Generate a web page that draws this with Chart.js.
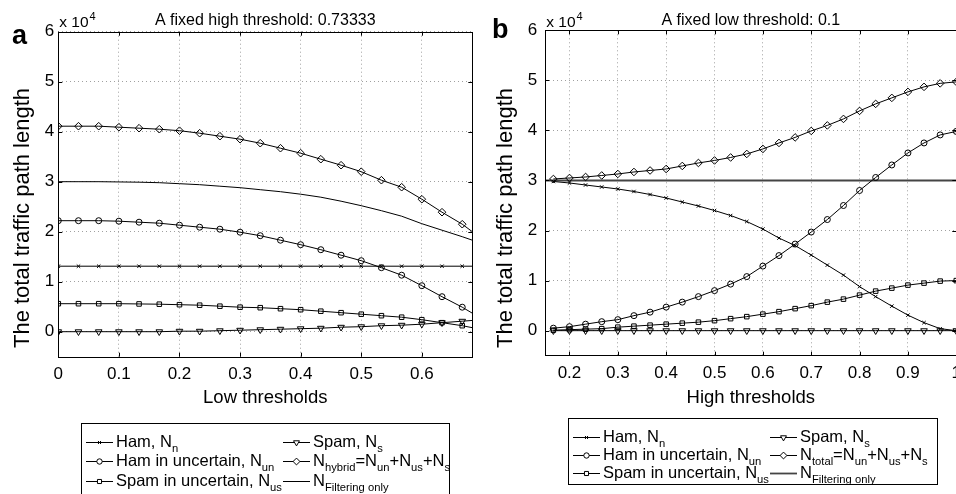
<!DOCTYPE html>
<html>
<head>
<meta charset="utf-8">
<script src="https://cdn.jsdelivr.net/npm/chart.js@4/dist/chart.umd.min.js"></script>
<style>
  html, body { margin: 0; padding: 0; background: #fff; overflow: hidden; width: 956px; height: 494px; }
  .panel { position: absolute; top: 0; }
  #wrapA { left: 0; }
  #wrapB { left: 478px; }
</style>
</head>
<body>
<div class="panel" id="wrapA"><canvas id="chartA" width="478" height="494"></canvas></div>
<div class="panel" id="wrapB"><canvas id="chartB" width="490" height="494"></canvas></div>
<script>
/* =========================
    DATA  (y values in units of 10^4)
========================= */

// panel a: fixed high threshold 0.73333, x = low threshold
const lowThresholds = [0, 0.0333, 0.0667, 0.1, 0.1333, 0.1667, 0.2, 0.2333, 0.2667, 0.3, 0.3333,
  0.3667, 0.4, 0.4333, 0.4667, 0.5, 0.5333, 0.5667, 0.6, 0.6333, 0.6667, 0.7];
const hamA      = [1.31, 1.31, 1.31, 1.31, 1.31, 1.31, 1.31, 1.31, 1.31, 1.31, 1.31,
  1.31, 1.31, 1.31, 1.31, 1.31, 1.31, 1.31, 1.31, 1.31, 1.31, 1.31];
const hamUncA   = [2.22, 2.22, 2.22, 2.21, 2.19, 2.17, 2.13, 2.09, 2.05, 1.99, 1.92,
  1.83, 1.74, 1.64, 1.53, 1.42, 1.28, 1.13, 0.92, 0.70, 0.49, 0.25];
const spamUncA  = [0.56, 0.56, 0.56, 0.56, 0.555, 0.55, 0.54, 0.53, 0.51, 0.49, 0.48,
  0.46, 0.44, 0.41, 0.38, 0.35, 0.32, 0.29, 0.24, 0.18, 0.12, 0.04];
const spamA     = [0, 0, 0, 0, 0, 0, 0.01, 0.01, 0.02, 0.03, 0.04,
  0.05, 0.06, 0.07, 0.09, 0.10, 0.12, 0.13, 0.15, 0.18, 0.21, 0.24];
const hybridA   = [4.11, 4.11, 4.11, 4.09, 4.07, 4.05, 4.02, 3.97, 3.91, 3.85, 3.77,
  3.67, 3.57, 3.45, 3.33, 3.20, 3.03, 2.89, 2.65, 2.39, 2.15, 1.85];
const filterA   = [3.00, 3.00, 3.00, 2.995, 2.99, 2.98, 2.96, 2.94, 2.91, 2.88, 2.84,
  2.80, 2.75, 2.69, 2.61, 2.52, 2.42, 2.31, 2.16, 2.03, 1.90, 1.76];
const xTicksA = [0, 0.1, 0.2, 0.3, 0.4, 0.5, 0.6];

// panel b: fixed low threshold 0.1, x = high threshold
const highThresholds = [0.1667, 0.2, 0.2333, 0.2667, 0.3, 0.3333, 0.3667, 0.4, 0.4333, 0.4667, 0.5,
  0.5333, 0.5667, 0.6, 0.6333, 0.6667, 0.7, 0.7333, 0.7667, 0.8, 0.8333, 0.8667, 0.9, 0.9333, 0.9667, 1.0];
const hamB      = [2.98, 2.95, 2.91, 2.87, 2.83, 2.78, 2.72, 2.65, 2.57, 2.49, 2.40,
  2.30, 2.18, 2.03, 1.85, 1.70, 1.51, 1.31, 1.11, 0.88, 0.68, 0.49, 0.31, 0.16, 0.04, 0.0];
const hamUncB   = [0.05, 0.08, 0.13, 0.18, 0.22, 0.30, 0.37, 0.47, 0.57, 0.68, 0.80,
  0.93, 1.08, 1.29, 1.50, 1.73, 1.97, 2.22, 2.50, 2.80, 3.06, 3.31, 3.55, 3.75, 3.91, 3.98];
const spamUncB  = [0.01, 0.02, 0.03, 0.04, 0.07, 0.09, 0.11, 0.13, 0.15, 0.17, 0.20,
  0.24, 0.28, 0.33, 0.38, 0.44, 0.50, 0.57, 0.63, 0.71, 0.79, 0.85, 0.91, 0.95, 0.99, 1.00];
const spamB     = [0, 0, 0, 0, 0, 0, 0, 0, 0, 0, 0, 0, 0, 0, 0, 0, 0, 0, 0, 0, 0, 0, 0, 0, 0, 0];
const totalB    = [3.03, 3.05, 3.07, 3.10, 3.13, 3.17, 3.20, 3.23, 3.29, 3.35, 3.40,
  3.46, 3.53, 3.63, 3.75, 3.86, 3.99, 4.10, 4.23, 4.39, 4.53, 4.65, 4.77, 4.87, 4.94, 4.97];
const filterXB  = [0.15, 1.0];
const filterB   = [3.0, 3.0];
const xTicksB = [0.2, 0.3, 0.4, 0.5, 0.6, 0.7, 0.8, 0.9, 1.0];

const yTicks = [0, 1, 2, 3, 4, 5, 6];

// legend labels: [text, isSubscript]
const legendLabelsA = [
  [['Ham, N'], ['n', 1]],
  [['Ham in uncertain, N'], ['un', 1]],
  [['Spam in uncertain, N'], ['us', 1]],
  [['Spam, N'], ['s', 1]],
  [['N'], ['hybrid', 1], ['=N'], ['un', 1], ['+N'], ['us', 1], ['+N'], ['s', 1]],
  [['N'], ['Filtering only', 1]]
];
const legendLabelsB = [
  [['Ham, N'], ['n', 1]],
  [['Ham in uncertain, N'], ['un', 1]],
  [['Spam in uncertain, N'], ['us', 1]],
  [['Spam, N'], ['s', 1]],
  [['N'], ['total', 1], ['=N'], ['un', 1], ['+N'], ['us', 1], ['+N'], ['s', 1]],
  [['N'], ['Filtering only', 1]]
];


/* =========================
    HELPERS
========================= */

const FONT = "'Liberation Sans', Arial, Helvetica, sans-serif";

// marker sizes per style (MATLAB default markers, hollow)
const MARK = { crossRot: 2.4, circle: 3, rect: 3.2, triangle: 3.8, rectRot: 3.8 };

function series(label, xs, ys, style, extra) {
  return Object.assign({
    label,
    data: xs.map((x, i) => ({ x, y: ys[i] })),
    borderColor: '#000',
    borderWidth: 1,
    pointStyle: style || false,
    pointRadius: style ? MARK[style] : 0,
    pointBorderColor: '#000',
    pointBackgroundColor: 'rgba(0,0,0,0)',
    pointBorderWidth: 1,
    tension: 0,
    fill: false
  }, extra || {});
}

// draws text with subscripts
function richText(ctx, parts, x, y, size) {
  parts.forEach(p => {
    const sub = p[1];
    ctx.font = (sub ? size * 0.68 : size) + 'px ' + FONT;
    ctx.fillText(p[0], x, sub ? y + size * 0.33 : y);
    x += ctx.measureText(p[0]).width;
  });
  return x;
}

/* MATLAB style frame, ticks, labels and legend */
const matlabFrame = {
  id: 'matlabFrame',
  afterDraw(chart, args, o) {
    const { ctx, chartArea: a, scales } = chart;
    ctx.save();

    // box + inward ticks
    ctx.strokeStyle = '#000';
    ctx.lineWidth = 1;
    ctx.beginPath();
    scales.x.ticks.forEach(t => {
      const px = Math.round(scales.x.getPixelForValue(t.value)) + 0.5;
      ctx.moveTo(px, a.bottom); ctx.lineTo(px, a.bottom - 4);
      ctx.moveTo(px, a.top); ctx.lineTo(px, a.top + 4);
    });
    scales.y.ticks.forEach(t => {
      const py = Math.round(scales.y.getPixelForValue(t.value)) + 0.5;
      ctx.moveTo(a.left, py); ctx.lineTo(a.left + 4, py);
      ctx.moveTo(a.right, py); ctx.lineTo(a.right - 4, py);
    });
    ctx.stroke();
    ctx.strokeRect(Math.round(a.left) + 0.5, Math.round(a.top) + 0.5,
      Math.round(a.right - a.left), Math.round(a.bottom - a.top));

    // panel letter
    ctx.fillStyle = '#000';
    ctx.textBaseline = 'alphabetic';
    ctx.textAlign = 'left';
    ctx.font = 'bold 27px ' + FONT;
    ctx.fillText(o.letter, o.letterX, o.letterY);

    // title
    ctx.textAlign = 'center';
    ctx.font = '16px ' + FONT;
    ctx.fillText(o.title, (a.left + a.right) / 2, 25);

    // y axis title (rotated)
    ctx.save();
    ctx.translate(o.yTitleX, 218);
    ctx.rotate(-Math.PI / 2);
    ctx.font = '22px ' + FONT;
    ctx.fillText('The total traffic path length', 0, 0);
    ctx.restore();

    // exponent label
    ctx.textAlign = 'left';
    ctx.font = '15.5px ' + FONT;
    ctx.fillText('x 10', a.left + 1, 27);
    const w = ctx.measureText('x 10').width;
    ctx.font = '11px ' + FONT;
    ctx.fillText('4', a.left + 1 + w + 1, 20);

    // legend
    const L = o.legend;
    ctx.fillStyle = '#fff';
    ctx.fillRect(L.x, L.y, L.w, L.h);
    ctx.strokeRect(L.x + 0.5, L.y + 0.5, L.w, L.h);
    ctx.fillStyle = '#000';
    L.labels.forEach((parts, i) => {
      const col = Math.floor(i / 3), row = i % 3;
      const ds = chart.data.datasets[i];
      const base = L.rows[row];
      const lx = L.x + (col ? 202 : 5);
      const ly = Math.round(base - 5) + 0.5;
      ctx.strokeStyle = ds.borderColor;
      ctx.lineWidth = ds.borderWidth;
      ctx.beginPath();
      ctx.moveTo(lx, ly); ctx.lineTo(lx + 27, ly);
      ctx.stroke();
      if (ds.pointStyle) {
        ctx.lineWidth = 1;
        ctx.strokeStyle = '#000';
        ctx.fillStyle = '#fff';
        Chart.helpers.drawPoint(ctx, {
          pointStyle: ds.pointStyle, rotation: ds.pointRotation || 0,
          radius: ds.pointRadius * 0.9, borderWidth: 1
        }, lx + 13.5, ly);
        ctx.fillStyle = '#000';
      }
      richText(ctx, parts, L.x + (col ? 232 : 35), base, 16.5);
    });

    ctx.restore();
  }
};

function makePanel(id, cfg) {
  return new Chart(document.getElementById(id), {
    type: 'line',
    data: { datasets: cfg.datasets },
    options: {
      responsive: false,
      animation: false,
      events: [],
      layout: { padding: cfg.padding },
      plugins: {
        legend: { display: false },
        tooltip: { enabled: false },
        matlabFrame: cfg.frame
      },
      scales: {
        x: {
          type: 'linear',
          min: cfg.xMin,
          max: cfg.xMax,
          afterBuildTicks: s => { s.ticks = cfg.xTicks.map(v => ({ value: v })); },
          afterFit: s => { s.height = cfg.xHeight; },
          ticks: {
            autoSkip: false, maxRotation: 0, padding: 7, color: '#000',
            font: { family: FONT, size: 17 },
            callback: v => String(Math.round(v * 10) / 10)
          },
          grid: { color: '#a0a0a0', lineWidth: 1, drawTicks: false },
          border: { display: false, dash: [1, 3] },
          title: {
            display: true, text: cfg.xTitle, color: '#000',
            font: { family: FONT, size: 18.5 }, padding: { top: 0, bottom: 85 }
          }
        },
        y: {
          type: 'linear',
          min: -0.5,
          max: 6,
          afterBuildTicks: s => { s.ticks = yTicks.map(v => ({ value: v })); },
          afterFit: s => { s.width = cfg.yWidth; },
          ticks: {
            padding: cfg.yTickPad, color: '#000',
            font: { family: FONT, size: 17 },
            callback: v => String(v)
          },
          grid: { color: '#a0a0a0', lineWidth: 1, drawTicks: false },
          border: { display: false, dash: [1, 3] }
        }
      }
    },
    plugins: [matlabFrame]
  });
}


/* =========================
    PANEL a
========================= */

makePanel('chartA', {
  datasets: [
    series('Ham, Nn', lowThresholds, hamA, 'crossRot'),
    series('Ham in uncertain, Nun', lowThresholds, hamUncA, 'circle'),
    series('Spam in uncertain, Nus', lowThresholds, spamUncA, 'rect'),
    series('Spam, Ns', lowThresholds, spamA, 'triangle', { pointRotation: 180 }),
    series('Nhybrid=Nun+Nus+Ns', lowThresholds, hybridA, 'rectRot'),
    series('NFiltering only', lowThresholds, filterA, null)
  ],
  padding: { top: 31.7, right: 5.7, bottom: 0, left: 0 },
  xMin: 0, xMax: 0.6833, xTicks: xTicksA,
  xHeight: 137.3, yWidth: 58.3, yTickPad: 4,
  xTitle: 'Low thresholds',
  frame: {
    letter: 'a', letterX: 12, letterY: 44, yTitleX: 28.5,
    title: 'A fixed high threshold: 0.73333',
    legend: { x: 81, y: 423, w: 368, h: 76, rows: [446.5, 466, 485.5], labels: legendLabelsA }
  }
});


/* =========================
    PANEL b
========================= */

makePanel('chartB', {
  datasets: [
    series('Ham, Nn', highThresholds, hamB, 'crossRot'),
    series('Ham in uncertain, Nun', highThresholds, hamUncB, 'circle'),
    series('Spam in uncertain, Nus', highThresholds, spamUncB, 'rect'),
    series('Spam, Ns', highThresholds, spamB, 'triangle', { pointRotation: 180 }),
    series('Ntotal=Nun+Nus+Ns', highThresholds, totalB, 'rectRot'),
    series('NFiltering only', filterXB, filterB, null, { borderColor: '#444', borderWidth: 1.8 })
  ],
  padding: { top: 30.3, right: 9.2, bottom: 0, left: 0 },
  xMin: 0.15, xMax: 1.0, xTicks: xTicksB,
  xHeight: 138.3, yWidth: 67.3, yTickPad: 8,
  xTitle: 'High thresholds',
  frame: {
    letter: 'b', letterX: 14, letterY: 38, yTitleX: 34,
    title: 'A fixed low threshold: 0.1',
    legend: { x: 90, y: 418, w: 369, h: 66, rows: [442, 460, 478], labels: legendLabelsB }
  }
});
</script>
</body>
</html>
